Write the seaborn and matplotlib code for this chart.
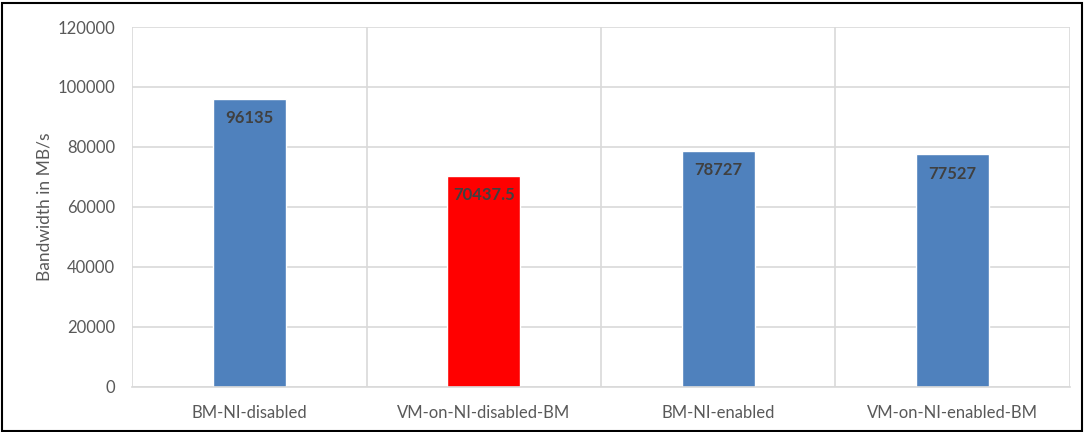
import matplotlib
matplotlib.use("Agg")
import matplotlib.pyplot as plt
import seaborn as sns
import pandas as pd
from matplotlib.patches import Rectangle

categories = ["BM-NI-disabled", "VM-on-NI-disabled-BM", "BM-NI-enabled", "VM-on-NI-enabled-BM"]
values = [96135, 70437.5, 78727, 77527]
value_labels = ["96135", "70437.5", "78727", "77527"]
bar_colors = ["#4F81BD", "#FF0000", "#4F81BD", "#4F81BD"]
y_ticks = [0, 20000, 40000, 60000, 80000, 100000, 120000]

sns.set_theme(style="white")
plt.rcParams['font.family'] = ['Lato', 'DejaVu Sans']

df = pd.DataFrame({"cat": categories, "val": values})

fig = plt.figure(figsize=(10.84, 4.32), dpi=100)
ax = fig.add_axes([0.1218, 0.1042, 0.9870 - 0.1218, 0.9375 - 0.1042])

sns.barplot(data=df, x="cat", y="val", hue="cat", palette=bar_colors,
            width=0.31, legend=False, ax=ax, saturation=1)

ax.set_ylim(0, 120000)
ax.set_xlim(-0.5, len(categories) - 0.5)
ax.set_yticks(y_ticks)
ax.set_yticklabels([str(t) for t in y_ticks])
ax.set_xticks(range(len(categories)))
ax.set_xticks([i - 0.5 for i in range(len(categories) + 1)], minor=True)

ax.grid(axis="y", color="#D9D9D9", linewidth=1.2, zorder=0)
ax.grid(axis="x", which="minor", color="#D9D9D9", linewidth=1.2, zorder=0)
ax.grid(axis="x", which="major", visible=False)
ax.set_axisbelow(True)

for s in ["top", "right", "left"]:
    ax.spines[s].set_visible(False)
ax.spines["bottom"].set_color("#D9D9D9")
ax.spines["bottom"].set_linewidth(1.2)

ax.tick_params(axis="both", which="both", length=0, colors="#595959", labelsize=12)
ax.tick_params(axis="x", pad=13)
ax.tick_params(axis="y", pad=12)
ax.set_xlabel("")
ax.set_ylabel("Bandwidth in MB/s", color="#595959", fontsize=12.5, labelpad=4)

for i, (v, lab) in enumerate(zip(values, value_labels)):
    ax.annotate(lab, (i, v), xytext=(0, -14), textcoords="offset points",
                ha="center", va="center", fontsize=12, fontweight="bold", color="#404040")

fig.patches.append(Rectangle((0.002, 0.002), 0.996, 0.990, transform=fig.transFigure,
                             fill=False, edgecolor="black", linewidth=1.5))

fig.savefig("out.png", dpi=100)
